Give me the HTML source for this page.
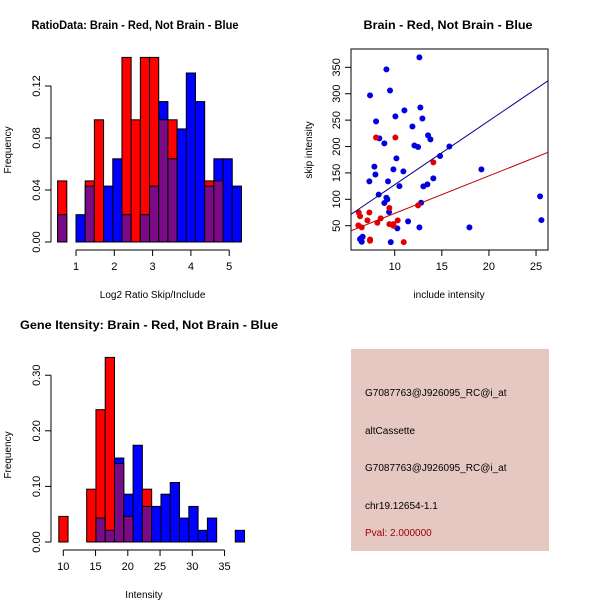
<!DOCTYPE html>
<html><head><meta charset="utf-8"><style>
body{margin:0;background:#fff}
svg{display:block;font-family:"Liberation Sans",sans-serif}
</style></head><body>
<svg id="c" width="600" height="600" xmlns="http://www.w3.org/2000/svg">
<rect width="600" height="600" fill="#fff"/>
<g id="info">
<rect x="351" y="349" width="198" height="202" fill="#e6c8c2"/>
<text x="365" y="396" font-size="10">G7087763@J926095_RC@i_at</text>
<text x="365" y="434" font-size="10">altCassette</text>
<text x="365" y="471" font-size="10">G7087763@J926095_RC@i_at</text>
<text x="365" y="509" font-size="10">chr19.12654-1.1</text>
<text x="365" y="536" font-size="10" fill="#a00000">Pval: 2.000000</text>
</g>
</svg>
<script>
// ---- Ratio histogram data ----
const ratioBinStart = 0.52;
const ratioBinWidth = 0.24;
const ratioRed = [0.047,0,0,0.047,0.094,0,0,0.142,0.094,0.142,0.142,0.094,0.094,0,0,0,0.047,0.047,0,0];
const ratioBlue = [0.021,0,0.021,0.043,0,0.043,0.064,0.021,0,0.021,0.043,0.108,0.064,0.087,0.13,0.108,0.043,0.064,0.064,0.043];
const ratioXTicks = [1,2,3,4,5];
const ratioYTicks = ["0.00","0.04","0.08","0.12"];
// ---- Intensity histogram data ----
const intBinStart = 9.3;
const intBinWidth = 1.44;
const intRed = [0.046,0,0,0.095,0.238,0.332,0.141,0.046,0,0.095,0,0,0,0,0,0,0,0,0,0];
const intBlue = [0,0,0,0,0.043,0.021,0.151,0.086,0.174,0.064,0.064,0.086,0.107,0.043,0.064,0.021,0.043,0,0,0.021];
const intXTicks = [10,15,20,25,30,35];
const intYTicks = ["0.00","0.10","0.20","0.30"];
// ---- Scatter data ----
const blueX = [12.62,9.12,7.38,9.50,8.02,11.03,10.07,12.72,12.94,11.88,13.54,13.79,8.37,8.90,12.09,12.48,15.80,14.81,10.18,7.84,7.95,9.86,10.92,19.20,7.31,9.29,14.10,10.50,13.04,13.47,8.30,9.12,9.22,8.90,12.80,9.40,25.43,25.57,11.42,10.28,12.62,17.93,9.58,6.43,6.60,6.50,6.32];
const blueY = [368.8,346,296.8,306,247.6,268.4,257,274,253,238,221,213.5,215.4,206,202,199,200,182,177.5,162,147,156.7,153,156.7,134,134,139.6,125,124.5,128.3,109,103,99.9,93,93.6,75.9,105.6,60.7,58.2,45,46.8,46.8,19,26.6,29,19.7,24.7];
const redX = [8.02,10.07,14.10,12.48,9.43,6.18,6.32,7.31,7.10,8.51,8.16,6.14,6.50,9.43,9.86,10.32,9.86,7.38,7.38,10.96];
const redY = [217,217,170,88.5,83.5,75,68,75,60,64,55.7,50.6,46.8,53,53,60,50,24,21.6,19];
const blueFit = [6.7, 12.1]; // intercept, slope
const redFit = [2.4, 7.1];
const scatXTicks = [10,15,20,25];
const scatYTicks = [50,100,150,200,250,300,350];

const svg = document.getElementById('c');
const NS = 'http://www.w3.org/2000/svg';
function mk(tag, attrs, parent){const e=document.createElementNS(NS,tag);for(const k in attrs)e.setAttribute(k,attrs[k]);(parent||svg).appendChild(e);return e;}
function txt(x,y,s,size,extra,parent){const t=mk('text',Object.assign({x:x,y:y,'font-size':size,'text-anchor':'middle'},extra||{}),parent);t.textContent=s;return t;}

function hist(cfg){
  const g = mk('g',{});
  
  
  const sx = v => cfg.x0px + (v - cfg.x0) * cfg.kx;
  const sy = v => cfg.y0px - v * cfg.ky;
  cfg.red.forEach((r,i)=>{
    const b = cfg.blue[i];
    const xl = sx(cfg.start + i*cfg.width), xr = sx(cfg.start + (i+1)*cfg.width);
    const top = Math.max(r,b), ov = Math.min(r,b);
    if (top<=0) return;
    const col = r>b ? 'red' : '#0000ff';
    const e = mk('rect',{x:xl,y:sy(top),width:xr-xl,height:sy(0)-sy(top),fill:col,stroke:'#000','stroke-width':1},g);
    
    
    if (ov>0){
      const p = mk('rect',{x:xl,y:sy(ov),width:xr-xl,height:sy(0)-sy(ov),fill:'#7a0a85',stroke:'#000','stroke-width':1},g);
      
      
    }
  });
  const ya = mk('g',{},g);
  
  
  const yv = cfg.yticks.map(Number);
  mk('line',{x1:cfg.axX,x2:cfg.axX,y1:sy(yv[0]),y2:sy(yv[yv.length-1]),stroke:'#000'},ya);
  cfg.yticks.forEach(t=>{const y=sy(Number(t));mk('line',{x1:cfg.axX-6,x2:cfg.axX,y1:y,y2:y,stroke:'#000'},ya);
    txt(cfg.axX-11,y,t,11,{transform:`rotate(-90 ${cfg.axX-11} ${y})`},ya);});
  const xa = mk('g',{},g);
  
  
  const xt = cfg.xticks;
  mk('line',{x1:sx(xt[0]),x2:sx(xt[xt.length-1]),y1:cfg.axY,y2:cfg.axY,stroke:'#000'},xa);
  xt.forEach(t=>{const x=sx(t);mk('line',{x1:x,x2:x,y1:cfg.axY,y2:cfg.axY+6,stroke:'#000'},xa);txt(x,cfg.axY+20,String(t),11,{},xa);});
  const ti = txt(cfg.titleX,cfg.titleY,cfg.title,12,{'font-weight':'bold',textLength:cfg.titleW,lengthAdjust:'spacingAndGlyphs'},g);
  
  
  const xl = txt((sx(xt[xt.length-1])+sx(xt[0]))/2, cfg.axY+48, cfg.xlabel, 10, {}, g);
  
  
  const yl = txt(11,cfg.ylabY,'Frequency',10,{transform:`rotate(-90 11 ${cfg.ylabY})`},g);
  
  
}

hist({name:'ratio-histogram',red:ratioRed,blue:ratioBlue,start:ratioBinStart,width:ratioBinWidth,
  x0:1,x0px:76,kx:38.3,y0px:242,ky:1300,axX:51,axY:250,xticks:ratioXTicks,yticks:ratioYTicks,
  title:'RatioData: Brain - Red, Not Brain - Blue',titleX:135,titleY:29,titleW:207,xlabel:'Log2 Ratio Skip/Include',ylabY:150});
hist({name:'intensity-histogram',red:intRed,blue:intBlue,start:intBinStart,width:intBinWidth,
  x0:10,x0px:63.3,kx:6.45,y0px:542,ky:556,axX:51,axY:550,xticks:intXTicks,yticks:intYTicks,
  title:'Gene Itensity: Brain - Red, Not Brain - Blue',titleX:149,titleY:329,titleW:258,xlabel:'Intensity',ylabY:455});

(function(){
  const g = mk('g',{});
  
  
  const L=351,R=548,T=49,B=250, xmin=5.36,xmax=26.27,ymin=4,ymax=384.7;
  const sx=v=>L+(v-xmin)/(xmax-xmin)*(R-L), sy=v=>B-(v-ymin)/(ymax-ymin)*(B-T);
  const box = mk('rect',{x:L,y:T,width:R-L,height:B-T,fill:'none',stroke:'#000'},g);
  
  
  const cp = mk('clipPath',{id:'sc'},g); mk('rect',{x:L,y:T,width:R-L,height:B-T},cp);
  const marks = mk('g',{'clip-path':'url(#sc)'},g);
  blueX.forEach((x,i)=>{const c=mk('circle',{cx:sx(x),cy:sy(blueY[i]),r:3,fill:'#0000e0'},marks);
    
    });
  redX.forEach((x,i)=>{const c=mk('circle',{cx:sx(x),cy:sy(redY[i]),r:3,fill:'#e00000'},marks);
    
    });
  const bl=mk('line',{x1:sx(xmin),y1:sy(blueFit[0]+blueFit[1]*xmin),x2:sx(xmax),y2:sy(blueFit[0]+blueFit[1]*xmax),stroke:'#00008b'},marks);
  
  
  const rl=mk('line',{x1:sx(xmin),y1:sy(redFit[0]+redFit[1]*xmin),x2:sx(xmax),y2:sy(redFit[0]+redFit[1]*xmax),stroke:'#c00000'},marks);
  
  
  scatXTicks.forEach(t=>{const x=sx(t);mk('line',{x1:x,x2:x,y1:B,y2:B+6,stroke:'#000'},g);txt(x,B+20,String(t),11,{},g);});
  scatYTicks.forEach(t=>{const y=sy(t);mk('line',{x1:L-6,x2:L,y1:y,y2:y,stroke:'#000'},g);
    txt(L-11,y,String(t),11,{transform:`rotate(-90 ${L-11} ${y})`},g);});
  const ti=txt(448,29,'Brain - Red, Not Brain - Blue',12,{'font-weight':'bold',textLength:169,lengthAdjust:'spacingAndGlyphs'},g);
  
  
  const xl=txt(449,298,'include intensity',10,{},g);
  
  
  const yl=txt(312,150,'skip intensity',10,{transform:'rotate(-90 312 150)'},g);
  
  
})();
</script>
</body></html>
